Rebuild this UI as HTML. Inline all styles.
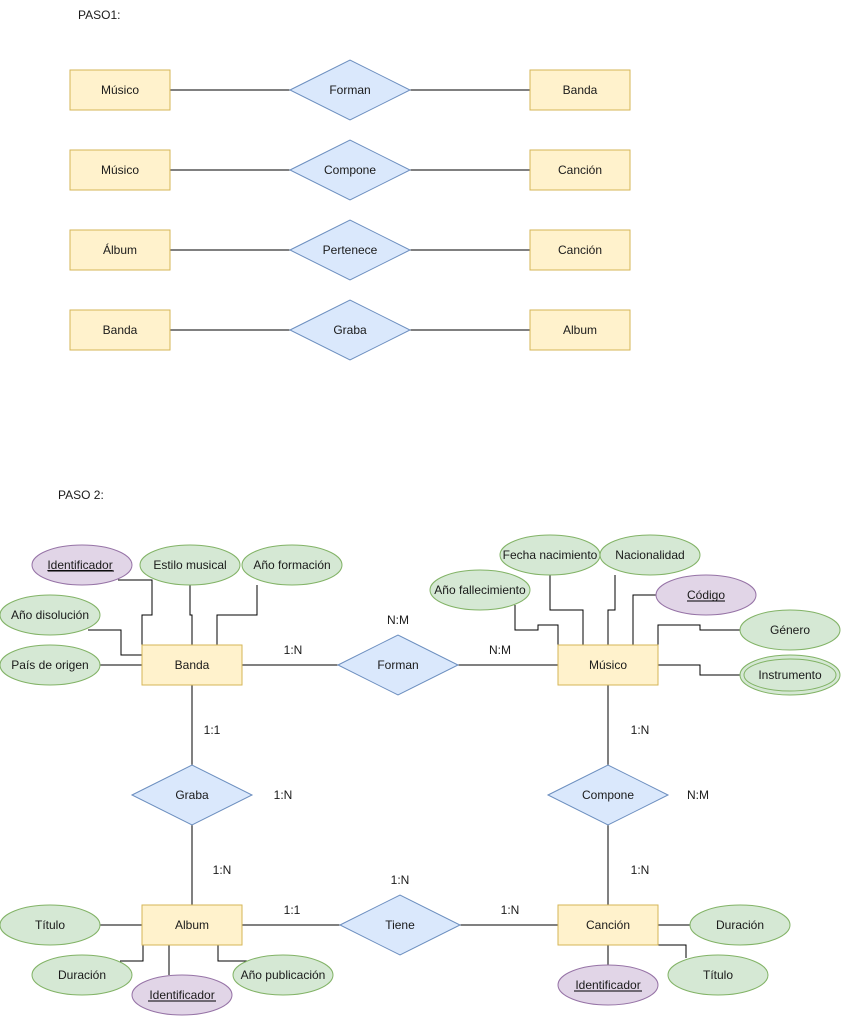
<!DOCTYPE html>
<html><head><meta charset="utf-8"><style>
html,body{margin:0;padding:0;background:#fff}
svg{display:block}
text{font-family:"Liberation Sans",Arial,sans-serif;font-size:12px;fill:#1a1a1a}
.e{fill:#fff2cc;stroke:#d6b656}
.r{fill:#dae8fc;stroke:#6c8ebf}
.g{fill:#d5e8d4;stroke:#82b366}
.p{fill:#e1d5e7;stroke:#9673a6}
.l{fill:none;stroke:#000;stroke-width:1}
</style></head><body>
<svg width="841" height="1016" viewBox="0 0 841 1016" xmlns="http://www.w3.org/2000/svg">
<text x="78" y="19">PASO1:</text>
<g text-anchor="middle">
<!-- PASO 1 rows -->
<g>
<line class="l" x1="170" y1="90" x2="530" y2="90"/>
<rect class="e" x="70" y="70" width="100" height="40"/><text x="120" y="94">Músico</text>
<polygon class="r" points="290,90 350,60 410,90 350,120"/><text x="350" y="94">Forman</text>
<rect class="e" x="530" y="70" width="100" height="40"/><text x="580" y="94">Banda</text>
</g>
<g>
<line class="l" x1="170" y1="170" x2="530" y2="170"/>
<rect class="e" x="70" y="150" width="100" height="40"/><text x="120" y="174">Músico</text>
<polygon class="r" points="290,170 350,140 410,170 350,200"/><text x="350" y="174">Compone</text>
<rect class="e" x="530" y="150" width="100" height="40"/><text x="580" y="174">Canción</text>
</g>
<g>
<line class="l" x1="170" y1="250" x2="530" y2="250"/>
<rect class="e" x="70" y="230" width="100" height="40"/><text x="120" y="254">Álbum</text>
<polygon class="r" points="290,250 350,220 410,250 350,280"/><text x="350" y="254">Pertenece</text>
<rect class="e" x="530" y="230" width="100" height="40"/><text x="580" y="254">Canción</text>
</g>
<g>
<line class="l" x1="170" y1="330" x2="530" y2="330"/>
<rect class="e" x="70" y="310" width="100" height="40"/><text x="120" y="334">Banda</text>
<polygon class="r" points="290,330 350,300 410,330 350,360"/><text x="350" y="334">Graba</text>
<rect class="e" x="530" y="310" width="100" height="40"/><text x="580" y="334">Album</text>
</g>
</g>
<text x="58" y="499">PASO 2:</text>

<!-- connectors -->
<g class="l">
<polyline class="l" points="118,580 152,580 152,615 142,615 142,645"/>
<polyline class="l" points="190,585 190,615 192,615 192,645"/>
<polyline class="l" points="257,585 257,615 217,615 217,645"/>
<polyline class="l" points="88,630 121,630 121,655 142,655"/>
<line class="l" x1="100" y1="665" x2="142" y2="665"/>
<line class="l" x1="242" y1="665" x2="558" y2="665"/>
<line class="l" x1="192" y1="685" x2="192" y2="905"/>
<line class="l" x1="608" y1="685" x2="608" y2="905"/>
<line class="l" x1="242" y1="925" x2="558" y2="925"/>
<polyline class="l" points="515,605 515,630 538,630 538,625 558,625 558,645"/>
<polyline class="l" points="550,575 550,610 583,610 583,645"/>
<polyline class="l" points="615,575 615,610 608,610 608,645"/>
<polyline class="l" points="656,595 633,595 633,645"/>
<polyline class="l" points="740,630 700,630 700,625 658,625 658,645"/>
<polyline class="l" points="658,665 700,665 700,675 740,675"/>
<line class="l" x1="100" y1="925" x2="142" y2="925"/>
<polyline class="l" points="120,961 143,961 143,935"/>
<line class="l" x1="169" y1="945" x2="169" y2="975"/>
<polyline class="l" points="218,945 218,961 248,961"/>
<line class="l" x1="658" y1="925" x2="694" y2="925"/>
<line class="l" x1="608" y1="945" x2="608" y2="965"/>
<polyline class="l" points="658,945 686,945 686,958"/>
</g>

<g text-anchor="middle">
<!-- Banda attrs -->
<ellipse class="p" cx="82" cy="565" rx="50" ry="20"/><text x="80" y="569" text-decoration="underline">Identificador </text>
<line x1="48" y1="571" x2="114" y2="571" stroke="#000"/>
<ellipse class="g" cx="190" cy="565" rx="50" ry="20"/><text x="190" y="569">Estilo musical</text>
<ellipse class="g" cx="292" cy="565" rx="50" ry="20"/><text x="292" y="569">Año formación</text>
<ellipse class="g" cx="50" cy="615" rx="50" ry="20"/><text x="50" y="619">Año disolución</text>
<ellipse class="g" cx="50" cy="665" rx="50" ry="20"/><text x="50" y="669">País de origen</text>
<rect class="e" x="142" y="645" width="100" height="40"/><text x="192" y="669">Banda</text>

<polygon class="r" points="338,665 398,635 458,665 398,695"/><text x="398" y="669">Forman</text>

<ellipse class="g" cx="550" cy="555" rx="50" ry="20"/><text x="550" y="559">Fecha nacimiento</text>
<ellipse class="g" cx="650" cy="555" rx="50" ry="20"/><text x="650" y="559">Nacionalidad</text>
<ellipse class="g" cx="480" cy="590" rx="50" ry="20"/><text x="480" y="594">Año fallecimiento</text>
<ellipse class="p" cx="706" cy="595" rx="50" ry="20"/><text x="706" y="599">Código</text>
<line x1="687" y1="601" x2="725" y2="601" stroke="#000"/>
<ellipse class="g" cx="790" cy="630" rx="50" ry="20"/><text x="790" y="634">Género</text>
<ellipse class="g" cx="790" cy="675" rx="50" ry="20"/>
<ellipse class="g" cx="790" cy="675" rx="46" ry="16"/><text x="790" y="679">Instrumento</text>
<rect class="e" x="558" y="645" width="100" height="40"/><text x="608" y="669">Músico</text>

<polygon class="r" points="132,795 192,765 252,795 192,825"/><text x="192" y="799">Graba</text>
<polygon class="r" points="548,795 608,765 668,795 608,825"/><text x="608" y="799">Compone</text>

<ellipse class="g" cx="50" cy="925" rx="50" ry="20"/><text x="50" y="929">Título</text>
<ellipse class="g" cx="82" cy="975" rx="50" ry="20"/><text x="82" y="979">Duración</text>
<ellipse class="p" cx="182" cy="995" rx="50" ry="20"/><text x="182" y="999">Identificador</text>
<line x1="148" y1="1001" x2="216" y2="1001" stroke="#000"/>
<ellipse class="g" cx="283" cy="975" rx="50" ry="20"/><text x="283" y="979">Año publicación</text>
<rect class="e" x="142" y="905" width="100" height="40"/><text x="192" y="929">Album</text>

<polygon class="r" points="340,925 400,895 460,925 400,955"/><text x="400" y="929">Tiene</text>

<rect class="e" x="558" y="905" width="100" height="40"/><text x="608" y="929">Canción</text>
<ellipse class="g" cx="740" cy="925" rx="50" ry="20"/><text x="740" y="929">Duración</text>
<ellipse class="p" cx="608" cy="985" rx="50" ry="20"/><text x="608" y="989">Identificador</text>
<line x1="574" y1="991" x2="642" y2="991" stroke="#000"/>
<ellipse class="g" cx="718" cy="975" rx="50" ry="20"/><text x="718" y="979">Título</text>

<!-- cardinalities -->
<text x="398" y="624">N:M</text>
<text x="293" y="654">1:N</text>
<text x="500" y="654">N:M</text>
<text x="212" y="734">1:1</text>
<text x="283" y="799">1:N</text>
<text x="222" y="874">1:N</text>
<text x="640" y="734">1:N</text>
<text x="698" y="799">N:M</text>
<text x="640" y="874">1:N</text>
<text x="400" y="884">1:N</text>
<text x="292" y="914">1:1</text>
<text x="510" y="914">1:N</text>
</g>
</svg>
</body></html>
